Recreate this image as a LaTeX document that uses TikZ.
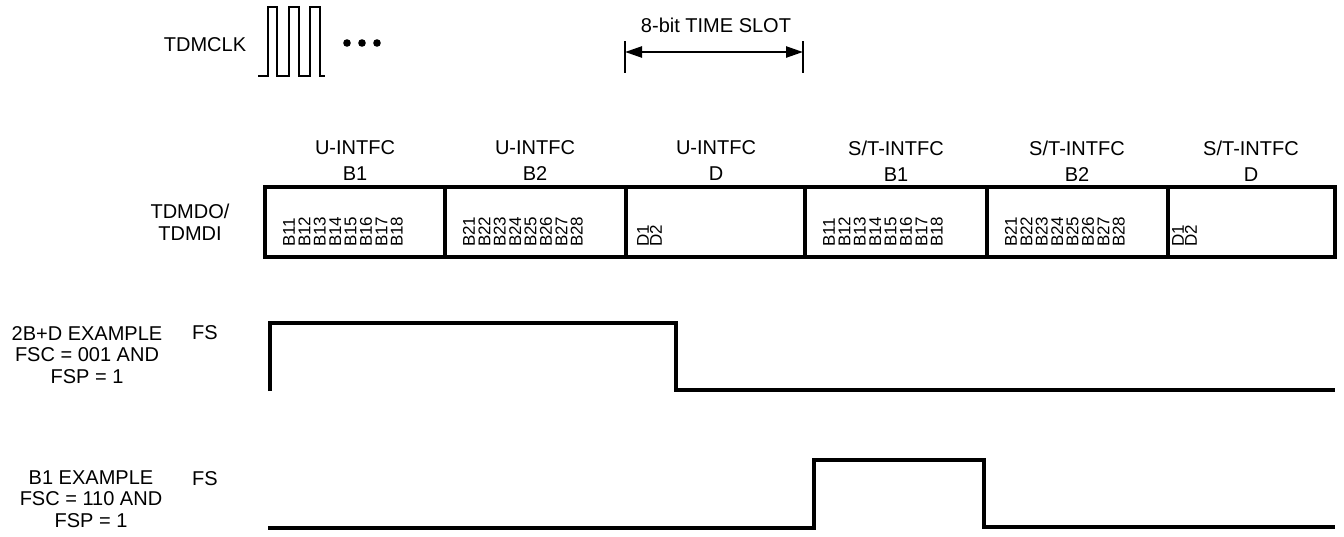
\documentclass[tikz,border=0pt]{standalone}
\usepackage{fontspec}
\setmainfont{Liberation Sans}
\usetikzlibrary{arrows.meta}

\begin{document}
\begin{tikzpicture}[x=1pt,y=-1pt,
  txt/.style={font=\fontsize{20}{26}\selectfont, inner sep=0pt, align=center},
  lft/.style={font=\fontsize{20}{21.5}\selectfont, inner sep=0pt, align=center},
  bit/.style={font=\fontsize{17}{17}\selectfont, inner sep=0pt, rotate=90, anchor=west},
  wave/.style={line width=3.2pt, line join=miter},
  thin/.style={line width=2.4pt, line join=miter}]
\useasboundingbox (0,0) rectangle (1344,536);
\node[txt] (clk) at (205,45) {TDMCLK};
\draw[thin] (258,76) -- (268,76) -- (268,7) -- (277,7) -- (277,76) -- (289,76) -- (289,7) -- (299,7) -- (299,76) -- (310,76) -- (310,7) -- (320,7) -- (320,76) -- (325,76);
\foreach \x in {347,362,377}
  \fill (\x,43) circle (3.8pt);
\node[txt] (slot) at (716,25) {8-bit TIME SLOT};
\coordinate (slotL) at (625,52);
\coordinate (slotR) at (803,52);
\draw[thin] (slotL) ++(0,-11) --++(0,32);
\draw[thin] (slotR) ++(0,-11) --++(0,32);
\draw[thin, {Triangle[length=17pt,width=11pt]}-{Triangle[length=17pt,width=11pt]}] (slotL) -- (slotR);
\node[lft] (tdm) at (190,222) {TDMDO/\\TDMDI};
\draw[wave] (265,187) rectangle (1335,257);
\foreach \x in {445,626,805,987,1168}
  \draw[wave] (\x,187) -- (\x,257);
\foreach \x/\a/\b [count=\i] in {355/U/B1, 535/U/B2, 716/U/D, 896/{S/T}/B1, 1077/{S/T}/B2, 1251/{S/T}/D}
  \node[txt] (head\i) at (\x,161) {\a-INTFC\\\b};
\foreach \c/\n in {265/1, 445/2, 805/1, 987/2}
  \foreach \k in {1,...,8}
    \node[bit] (bit-\c-\k) at ({\c+24+(\k-1)*15.4},247) {B\n\k};
\foreach \c/\o in {626/17, 1168/10}
  \foreach \k in {1,2}
    \node[bit] (dbit-\c-\k) at ({\c+\o+(\k-1)*13},247) {D\k};
\draw[wave] (270,391) -- (270,323) -- (676,323) -- (676,390) -- (1335,390);
\node[lft] (ex1) at (87,355) {2B+D EXAMPLE\\FSC = 001 AND\\FSP = 1};
\node[lft] (fs1) at (205,333) {FS};
\draw[wave] (268,528) -- (814,528) -- (814,460) -- (984,460) -- (984,527) -- (1335,527);
\node[lft] (ex2) at (91,499) {B1 EXAMPLE\\FSC = 110 AND\\FSP = 1};
\node[lft] (fs2) at (205,479) {FS};
\end{tikzpicture}
\end{document}
